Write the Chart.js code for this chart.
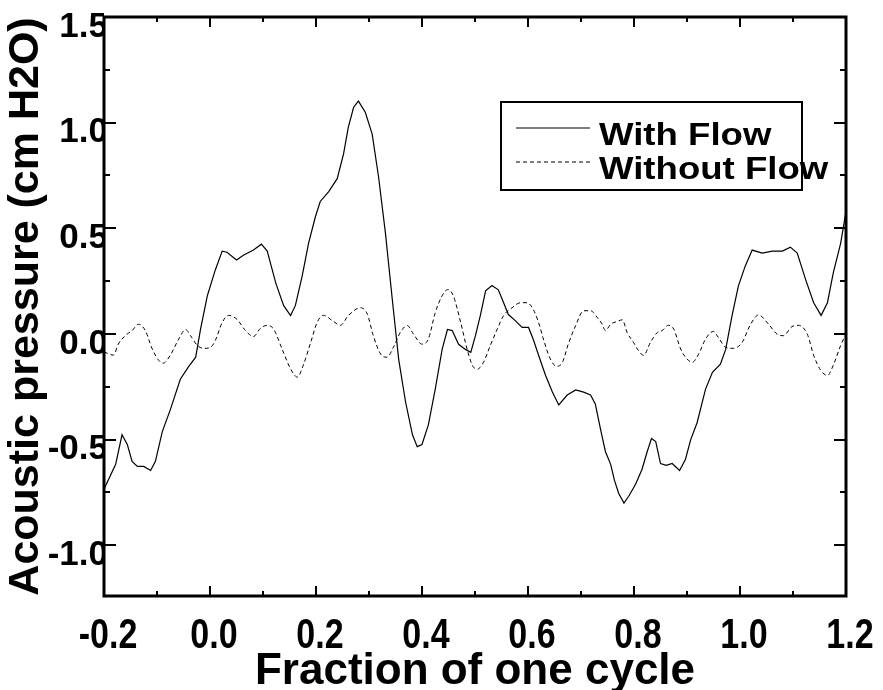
<!DOCTYPE html>
<html>
<head>
<meta charset="utf-8">
<script src="https://cdn.jsdelivr.net/npm/chart.js@4.4.0/dist/chart.umd.min.js"></script>
<style>
    html, body { margin: 0; padding: 0; background: #fff; }
    #wrap { width: 883px; height: 690px; }
</style>
</head>
<body>
<div id="wrap"><canvas id="pressure-chart" width="883" height="690"></canvas></div>
<script>
// values
const withFlowX = [-0.2, -0.178, -0.166, -0.156, -0.147, -0.137, -0.125, -0.112, -0.103, -0.09, -0.075, -0.056, -0.041, -0.027, -0.018, -0.005, 0.01, 0.023, 0.032, 0.05, 0.063, 0.082, 0.097, 0.108, 0.124, 0.139, 0.152, 0.161, 0.174, 0.186, 0.199, 0.208, 0.224, 0.24, 0.252, 0.261, 0.271, 0.28, 0.293, 0.306, 0.318, 0.331, 0.344, 0.356, 0.369, 0.382, 0.391, 0.4, 0.412, 0.425, 0.438, 0.448, 0.457, 0.469, 0.482, 0.492, 0.501, 0.51, 0.52, 0.532, 0.544, 0.554, 0.563, 0.576, 0.589, 0.601, 0.61, 0.62, 0.633, 0.646, 0.658, 0.674, 0.69, 0.705, 0.718, 0.727, 0.737, 0.746, 0.756, 0.763, 0.771, 0.781, 0.79, 0.803, 0.815, 0.825, 0.833, 0.841, 0.85, 0.861, 0.872, 0.886, 0.897, 0.907, 0.919, 0.935, 0.948, 0.963, 0.973, 0.985, 0.997, 1.01, 1.023, 1.042, 1.061, 1.08, 1.095, 1.108, 1.124, 1.139, 1.153, 1.165, 1.176, 1.19, 1.2];
const withFlowY = [-0.735, -0.617, -0.477, -0.523, -0.603, -0.627, -0.627, -0.646, -0.603, -0.462, -0.359, -0.214, -0.157, -0.11, 0.021, 0.181, 0.303, 0.392, 0.387, 0.35, 0.373, 0.397, 0.425, 0.392, 0.242, 0.134, 0.087, 0.134, 0.275, 0.43, 0.556, 0.627, 0.674, 0.735, 0.852, 0.979, 1.073, 1.102, 1.049, 0.946, 0.744, 0.477, 0.162, -0.12, -0.322, -0.477, -0.533, -0.523, -0.43, -0.261, -0.073, 0.021, 0.016, -0.049, -0.073, -0.087, -0.007, 0.087, 0.204, 0.229, 0.209, 0.148, 0.092, 0.063, 0.031, 0.031, -0.026, -0.101, -0.195, -0.275, -0.336, -0.289, -0.265, -0.275, -0.289, -0.331, -0.453, -0.556, -0.617, -0.692, -0.754, -0.8, -0.768, -0.711, -0.641, -0.556, -0.495, -0.509, -0.613, -0.622, -0.613, -0.646, -0.594, -0.5, -0.42, -0.261, -0.181, -0.143, -0.073, 0.087, 0.228, 0.322, 0.397, 0.383, 0.392, 0.392, 0.411, 0.383, 0.256, 0.148, 0.088, 0.148, 0.289, 0.43, 0.58];

const withoutFlowX = [-0.2, -0.182, -0.173, -0.159, -0.147, -0.135, -0.122, -0.109, -0.097, -0.088, -0.075, -0.059, -0.046, -0.037, -0.024, -0.012, 0.001, 0.01, 0.023, 0.035, 0.051, 0.067, 0.082, 0.095, 0.108, 0.12, 0.136, 0.152, 0.165, 0.176, 0.19, 0.202, 0.214, 0.231, 0.246, 0.261, 0.284, 0.297, 0.308, 0.322, 0.334, 0.346, 0.359, 0.372, 0.384, 0.4, 0.412, 0.425, 0.438, 0.449, 0.459, 0.473, 0.485, 0.495, 0.504, 0.516, 0.529, 0.542, 0.554, 0.57, 0.586, 0.598, 0.61, 0.62, 0.629, 0.642, 0.654, 0.665, 0.676, 0.69, 0.705, 0.718, 0.731, 0.74, 0.746, 0.756, 0.768, 0.778, 0.787, 0.799, 0.808, 0.818, 0.831, 0.844, 0.853, 0.865, 0.875, 0.888, 0.9, 0.91, 0.922, 0.935, 0.95, 0.959, 0.973, 0.988, 1.004, 1.02, 1.035, 1.054, 1.07, 1.082, 1.098, 1.11, 1.127, 1.139, 1.152, 1.165, 1.176, 1.19, 1.2];
const withoutFlowY = [-0.085, -0.1, -0.048, -0.006, 0.016, 0.046, 0.016, -0.071, -0.124, -0.138, -0.101, -0.024, 0.021, -0.007, -0.054, -0.068, -0.063, -0.031, 0.054, 0.088, 0.069, 0.016, -0.012, 0.026, 0.041, 0.023, -0.071, -0.165, -0.204, -0.148, -0.04, 0.054, 0.088, 0.063, 0.041, 0.087, 0.124, 0.093, -0.007, -0.095, -0.11, -0.063, 0.007, 0.04, -0.001, -0.048, -0.024, 0.101, 0.181, 0.21, 0.181, 0.054, -0.071, -0.148, -0.167, -0.134, -0.054, 0.023, 0.087, 0.124, 0.148, 0.148, 0.116, 0.054, -0.024, -0.118, -0.153, -0.134, -0.048, 0.04, 0.11, 0.11, 0.077, 0.046, 0.016, 0.046, 0.059, 0.067, 0.007, -0.04, -0.077, -0.101, -0.04, 0.007, 0.016, 0.041, 0.023, -0.071, -0.118, -0.134, -0.095, -0.024, 0.012, -0.016, -0.063, -0.068, -0.04, 0.046, 0.09, 0.046, -0.001, -0.008, 0.035, 0.041, -0.001, -0.101, -0.171, -0.196, -0.148, -0.054, 0.0];

const xTicks = [-0.2, 0.0, 0.2, 0.4, 0.6, 0.8, 1.0, 1.2];
const seriesLabels = ['With Flow', 'Without Flow'];
const xTitle = 'Fraction of one cycle';
const yTitle = 'Acoustic pressure (cm H2O)';

function toPoints(xs, ys) {
    let pts = [];
    for (let i = 0; i < Math.min(xs.length, ys.length); i++) {
        pts.push({x: xs[i], y: ys[i]});
    }
    return pts;
}

function fmt(v) {
    if (Math.abs(v) < 1e-9) v = 0;
    return v.toFixed(1);
}

// inward ticks + box round the plot
const frameTicks = {
    id: 'frameTicks',
    afterDatasetsDraw(chart) {
        const ctx = chart.ctx;
        const a = chart.chartArea;
        const sx = chart.scales.x;
        const sy = chart.scales.y;
        ctx.save();
        ctx.strokeStyle = '#000';
        ctx.lineWidth = 2;
        ctx.beginPath();
        for (let k = 0; k <= 14; k++) {
            const px = Math.round(sx.getPixelForValue(-0.2 + k * 0.1));
            const len = k % 2 === 0 ? 10 : 5;
            ctx.moveTo(px, a.bottom); ctx.lineTo(px, a.bottom - len);
            ctx.moveTo(px, a.top); ctx.lineTo(px, a.top + len);
        }
        for (let k = -4; k <= 6; k++) {
            const py = Math.round(sy.getPixelForValue(k * 0.25));
            const len = k % 2 === 0 ? 12 : 6;
            ctx.moveTo(a.left, py); ctx.lineTo(a.left + len, py);
            ctx.moveTo(a.right, py); ctx.lineTo(a.right - len, py);
        }
        ctx.stroke();
        ctx.lineWidth = 3;
        ctx.strokeRect(a.left, a.top, a.right - a.left, a.bottom - a.top);
        ctx.restore();
    }
};

// x tick labels are drawn tall and narrow, like the original
const xTickLabels = {
    id: 'xTickLabels',
    afterDraw(chart) {
        const ctx = chart.ctx;
        const sx = chart.scales.x;
        ctx.save();
        ctx.fillStyle = '#000';
        ctx.font = 'bold 34px "Liberation Sans", Arial, sans-serif';
        ctx.textAlign = 'center';
        ctx.textBaseline = 'alphabetic';
        xTicks.forEach(function (v) {
            ctx.save();
            ctx.translate(sx.getPixelForValue(v) + 4, 648);
            ctx.scale(1, 1.25);
            ctx.fillText(fmt(v), 0, 0);
            ctx.restore();
        });
        ctx.restore();
    }
};

const legendBox = {
    id: 'legendBox',
    afterDraw(chart) {
        const ctx = chart.ctx;
        ctx.save();
        ctx.fillStyle = '#fff';
        ctx.fillRect(501, 102, 301, 88);
        ctx.strokeStyle = '#000';
        ctx.lineWidth = 2;
        ctx.strokeRect(501, 102, 301, 88);
        chart.data.datasets.forEach(function (ds, i) {
            const y = 128 + i * 34;
            ctx.beginPath();
            ctx.lineWidth = 1.2;
            ctx.setLineDash(ds.borderDash || []);
            ctx.moveTo(516, y);
            ctx.lineTo(590, y);
            ctx.stroke();
            ctx.setLineDash([]);
            ctx.save();
            ctx.translate(599, y + 17);
            ctx.scale(1.18, 1);
            ctx.fillStyle = '#000';
            ctx.font = 'bold 31px "Liberation Sans", Arial, sans-serif';
            ctx.textBaseline = 'alphabetic';
            ctx.fillText(ds.label, 0, 0);
            ctx.restore();
        });
        ctx.restore();
    }
};

new Chart(document.getElementById('pressure-chart').getContext('2d'), {
    type: 'scatter',
    data: {
        datasets: [
            {
                label: seriesLabels[0],
                data: toPoints(withFlowX, withFlowY),
                showLine: true,
                borderColor: '#000',
                borderWidth: 1.2,
                pointRadius: 0,
                tension: 0
            },
            {
                label: seriesLabels[1],
                data: toPoints(withoutFlowX, withoutFlowY),
                showLine: true,
                borderColor: '#000',
                borderWidth: 1,
                borderDash: [4, 3],
                pointRadius: 0,
                cubicInterpolationMode: 'monotone'
            }
        ]
    },
    options: {
        responsive: false,
        animation: false,
        devicePixelRatio: 1,
        layout: {
            padding: {top: 14, right: 37, bottom: 0, left: 0}
        },
        scales: {
            x: {
                type: 'linear',
                min: -0.2,
                max: 1.2,
                grid: {display: false, drawTicks: false},
                border: {display: false},
                ticks: {display: false, stepSize: 0.2},
                title: {
                    display: true,
                    text: xTitle,
                    color: '#000',
                    padding: {top: 0, bottom: -4},
                    font: {family: '"Liberation Sans", Arial', size: 44, weight: 'bold', lineHeight: 1.0}
                },
                afterFit: function (s) { s.height = 94; }
            },
            y: {
                min: -1.24,
                max: 1.5,
                grid: {display: false, drawTicks: false},
                border: {display: false},
                ticks: {
                    stepSize: 0.5,
                    includeBounds: false,
                    padding: -4,
                    labelOffset: 10,
                    color: '#000',
                    font: {family: '"Liberation Sans", Arial', size: 35, weight: 'bold'},
                    callback: function (v) { return fmt(v); }
                },
                title: {
                    display: true,
                    text: yTitle,
                    color: '#000',
                    padding: 0,
                    font: {family: '"Liberation Sans", Arial', size: 43, weight: 'bold'}
                },
                afterFit: function (s) { s.width = 104; }
            }
        },
        plugins: {
            legend: {display: false},
            tooltip: {enabled: false}
        }
    },
    plugins: [frameTicks, xTickLabels, legendBox]
});
</script>
</body>
</html>
